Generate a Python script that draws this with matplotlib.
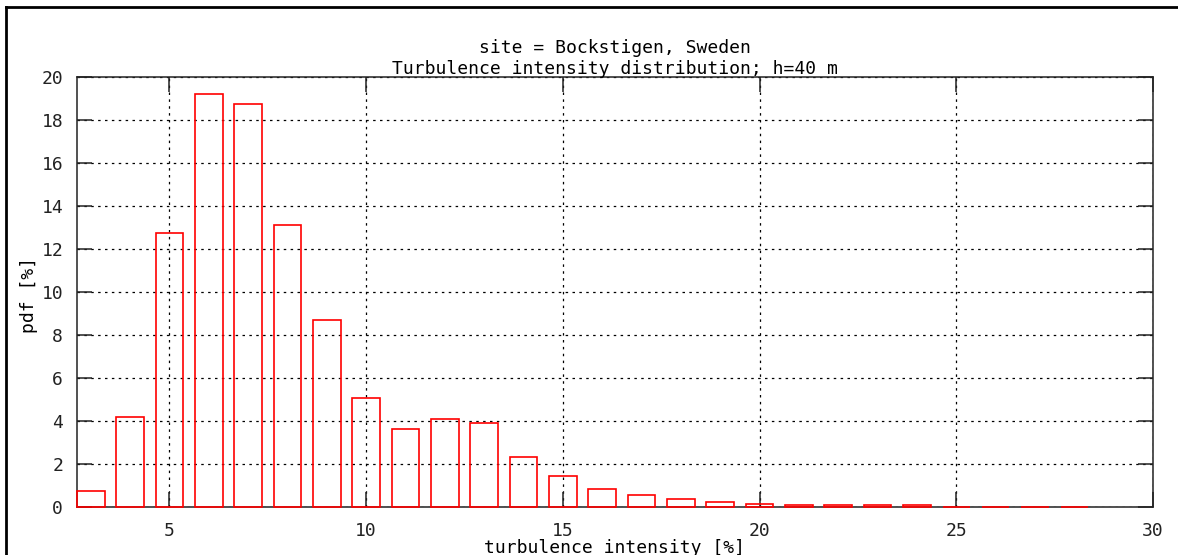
import matplotlib.pyplot as plt
from matplotlib.lines import Line2D

# turbulence intensity bins [%] and pdf values [%]
ti_bins = [3, 4, 5, 6, 7, 8, 9, 10, 11, 12, 13, 14, 15, 16,
           17, 18, 19, 20, 21, 22, 23, 24, 25, 26, 27, 28]
pdf_vals = [0.73, 4.19, 12.74, 19.19, 18.76, 13.1, 8.68, 5.08, 3.64, 4.1, 3.92, 2.32, 1.44, 0.82,
            0.56, 0.39, 0.22, 0.12, 0.1, 0.1, 0.1, 0.1, 0.01, 0.01, 0.01, 0.01]
x_ticks = [5, 10, 15, 20, 25, 30]
y_ticks = [0, 2, 4, 6, 8, 10, 12, 14, 16, 18, 20]

plt.rcParams['font.family'] = ['DejaVu Sans Mono', 'DejaVu Sans']
plt.rcParams['font.size'] = 13

fig = plt.figure(figsize=(11.78, 5.55), dpi=100)
ax = fig.add_axes([77 / 1178, 48 / 555, (1153 - 77) / 1178, (507 - 77) / 555])

bars = ax.bar(ti_bins, pdf_vals, width=0.7, fill=False, edgecolor='#ff0000', linewidth=1.2, zorder=3)
for b in bars:
    b.set_clip_on(False)

ax.set_xlim(2.65, 30)
ax.set_ylim(0, 20)
ax.set_xticks(x_ticks)
ax.set_yticks(y_ticks)
ax.grid(True, color='black', linestyle=(0, (2, 3.5)), linewidth=0.9)
ax.tick_params(direction='in', length=11, width=1.1, top=True, right=True,
               labelsize=13, colors='#222222')
ax.tick_params(axis='x', pad=11)
ax.tick_params(axis='y', pad=10)
for s in ax.spines.values():
    s.set_linewidth(1.1)
    s.set_color('#222222')

ax.set_title('site = Bockstigen, Sweden\nTurbulence intensity distribution; h=40 m',
             fontsize=13, pad=2, linespacing=1.25)
ax.set_xlabel('turbulence intensity [%]', fontsize=13, va='center')
ax.xaxis.set_label_coords(0.5, -0.095)
ax.set_ylabel('pdf [%]', fontsize=13, va='center')
ax.yaxis.set_label_coords(-0.0446, 0.493)

# outer frame (top and left edges visible)
fig.add_artist(Line2D([6 / 1178, 1], [1 - 7 / 555, 1 - 7 / 555], color='black', linewidth=2))
fig.add_artist(Line2D([6 / 1178, 6 / 1178], [0, 1 - 7 / 555], color='black', linewidth=2))

plt.savefig('out.png', dpi=100)
